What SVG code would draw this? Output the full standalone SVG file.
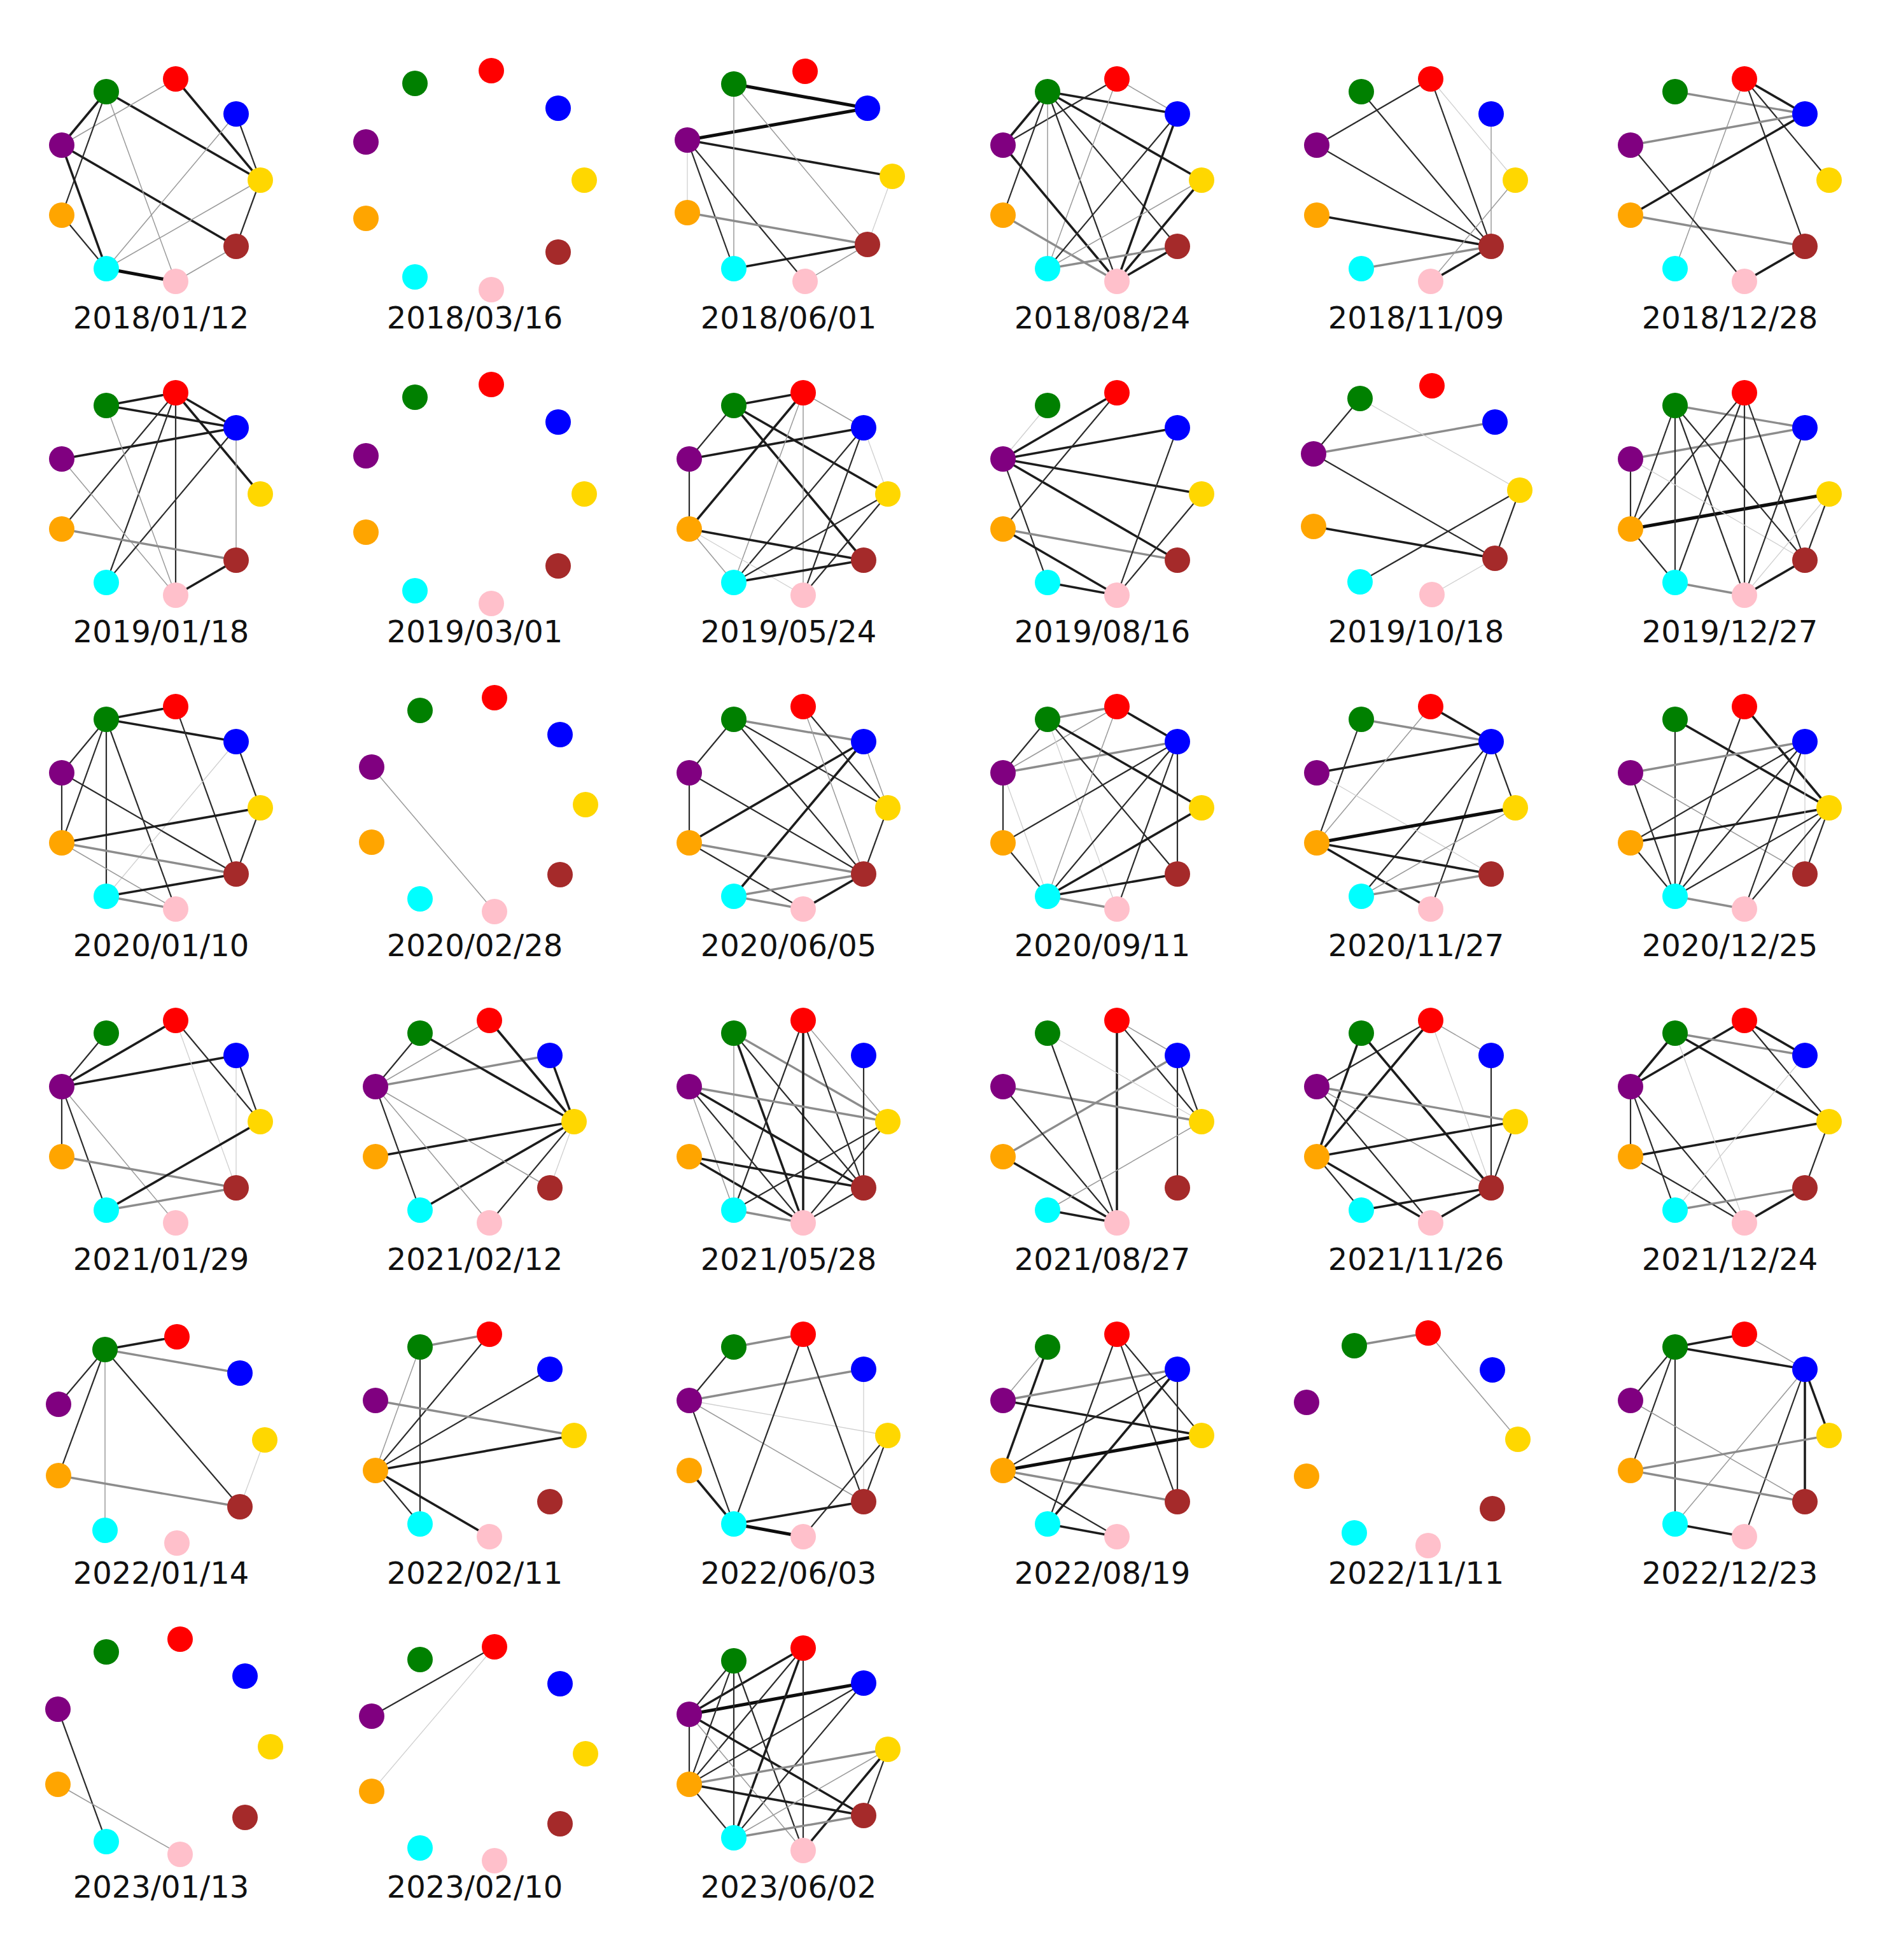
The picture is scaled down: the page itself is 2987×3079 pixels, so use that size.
<svg xmlns="http://www.w3.org/2000/svg" width="2987" height="3079" viewBox="0 0 2987 3079">
<style>
.G{fill:#008000}.R{fill:#ff0000}.B{fill:#0000ff}.Y{fill:#ffd700}.N{fill:#a52a2a}.K{fill:#ffc0cb}.C{fill:#00ffff}.O{fill:#ffa500}.P{fill:#800080}
path{fill:none}
.a{stroke:#cfcfcf;stroke-width:1.3}
.b{stroke:#9a9a9a;stroke-width:1.5}
.c{stroke:#2b2b2b;stroke-width:2.2}
.d{stroke:#8c8c8c;stroke-width:3.4}
.e{stroke:#1c1c1c;stroke-width:3.6}
.f{stroke:#0d0d0d;stroke-width:5.2}
text{font-family:"DejaVu Sans",sans-serif;font-size:48px;fill:#111;text-anchor:middle}
</style>
<rect width="2987" height="3079" fill="#ffffff"/>

<g id="graph-2018-01-12">
<g transform="translate(248,283)">
<g id="edges-2018-01-12">
<path class="e" d="M-81 -139L161 0"/><path class="e" d="M28 -159L161 0"/><path class="c" d="M123 -104L161 0"/><path class="e" d="M-151 -55L123 104"/><path class="e" d="M-81 -139L-151 -55"/><path class="b" d="M28 -159L-151 -55"/><path class="c" d="M-81 -139L-151 55"/><path class="e" d="M-151 -55L-81 139"/><path class="c" d="M-151 55L-81 139"/><path class="b" d="M-81 -139L28 159"/><path class="b" d="M-81 139L161 0"/><path class="b" d="M-81 139L123 -104"/><path class="f" d="M-81 139L28 159"/><path class="b" d="M28 159L123 104"/><path class="c" d="M123 104L161 0"/>
</g>
<g id="n00-G"><circle class="G" cx="-81" cy="-139" r="20"/></g><g id="n00-R"><circle class="R" cx="28" cy="-159" r="20"/></g><g id="n00-B"><circle class="B" cx="123" cy="-104" r="20"/></g><g id="n00-Y"><circle class="Y" cx="161" cy="0" r="20"/></g><g id="n00-N"><circle class="N" cx="123" cy="104" r="20"/></g><g id="n00-K"><circle class="K" cx="28" cy="159" r="20"/></g><g id="n00-C"><circle class="C" cx="-81" cy="139" r="20"/></g><g id="n00-O"><circle class="O" cx="-151" cy="55" r="20"/></g><g id="n00-P"><circle class="P" cx="-151" cy="-55" r="20"/></g>
</g>
<text x="253" y="516">2018/01/12</text>
</g>

<g id="graph-2018-03-16">
<g transform="translate(741,283)">
<g id="edges-2018-03-16"></g>
<g id="n01-G"><circle class="G" cx="-89" cy="-152" r="20"/></g><g id="n01-R"><circle class="R" cx="31" cy="-172" r="20"/></g><g id="n01-B"><circle class="B" cx="136" cy="-113" r="20"/></g><g id="n01-Y"><circle class="Y" cx="177" cy="0" r="20"/></g><g id="n01-N"><circle class="N" cx="136" cy="113" r="20"/></g><g id="n01-K"><circle class="K" cx="31" cy="172" r="20"/></g><g id="n01-C"><circle class="C" cx="-89" cy="152" r="20"/></g><g id="n01-O"><circle class="O" cx="-166" cy="60" r="20"/></g><g id="n01-P"><circle class="P" cx="-166" cy="-60" r="20"/></g>
</g>
<text x="746" y="516">2018/03/16</text>
</g>

<g id="graph-2018-06-01">
<g transform="translate(1236,277)">
<g id="edges-2018-06-01">
<path class="f" d="M-83 -145L127 -107"/><path class="f" d="M-156 -57L127 -107"/><path class="e" d="M-156 -57L166 0"/><path class="b" d="M-83 -145L-83 145"/><path class="b" d="M-83 -145L127 107"/><path class="c" d="M-156 -57L-83 145"/><path class="c" d="M-156 -57L29 165"/><path class="a" d="M-156 -57L-156 57"/><path class="d" d="M-156 57L127 107"/><path class="e" d="M-83 145L127 107"/><path class="b" d="M29 165L127 107"/><path class="a" d="M127 107L166 0"/>
</g>
<g id="n02-G"><circle class="G" cx="-83" cy="-145" r="20"/></g><g id="n02-R"><circle class="R" cx="29" cy="-165" r="20"/></g><g id="n02-B"><circle class="B" cx="127" cy="-107" r="20"/></g><g id="n02-Y"><circle class="Y" cx="166" cy="0" r="20"/></g><g id="n02-N"><circle class="N" cx="127" cy="107" r="20"/></g><g id="n02-K"><circle class="K" cx="29" cy="165" r="20"/></g><g id="n02-C"><circle class="C" cx="-83" cy="145" r="20"/></g><g id="n02-O"><circle class="O" cx="-156" cy="57" r="20"/></g><g id="n02-P"><circle class="P" cx="-156" cy="-57" r="20"/></g>
</g>
<text x="1239" y="516">2018/06/01</text>
</g>

<g id="graph-2018-08-24">
<g transform="translate(1727,283)">
<g id="edges-2018-08-24">
<path class="e" d="M-81 -139L123 -104"/><path class="b" d="M28 -159L123 -104"/><path class="e" d="M-81 -139L-151 -55"/><path class="c" d="M28 -159L-151 -55"/><path class="e" d="M-81 -139L161 0"/><path class="c" d="M-81 -139L123 104"/><path class="c" d="M-81 -139L28 159"/><path class="b" d="M-81 -139L-81 139"/><path class="c" d="M-81 -139L-151 55"/><path class="b" d="M28 -159L-81 139"/><path class="e" d="M-151 -55L28 159"/><path class="d" d="M-151 55L28 159"/><path class="e" d="M123 -104L28 159"/><path class="c" d="M123 -104L-81 139"/><path class="e" d="M161 0L28 159"/><path class="b" d="M161 0L-81 139"/><path class="d" d="M123 104L-81 139"/><path class="e" d="M123 104L28 159"/>
</g>
<g id="n03-G"><circle class="G" cx="-81" cy="-139" r="20"/></g><g id="n03-R"><circle class="R" cx="28" cy="-159" r="20"/></g><g id="n03-B"><circle class="B" cx="123" cy="-104" r="20"/></g><g id="n03-Y"><circle class="Y" cx="161" cy="0" r="20"/></g><g id="n03-N"><circle class="N" cx="123" cy="104" r="20"/></g><g id="n03-K"><circle class="K" cx="28" cy="159" r="20"/></g><g id="n03-C"><circle class="C" cx="-81" cy="139" r="20"/></g><g id="n03-O"><circle class="O" cx="-151" cy="55" r="20"/></g><g id="n03-P"><circle class="P" cx="-151" cy="-55" r="20"/></g>
</g>
<text x="1732" y="516">2018/08/24</text>
</g>

<g id="graph-2018-11-09">
<g transform="translate(2220,283)">
<g id="edges-2018-11-09">
<path class="c" d="M28 -159L-151 -55"/><path class="c" d="M-81 -139L123 104"/><path class="c" d="M28 -159L123 104"/><path class="a" d="M28 -159L161 0"/><path class="b" d="M123 -104L123 104"/><path class="c" d="M-151 -55L123 104"/><path class="e" d="M-151 55L123 104"/><path class="d" d="M-81 139L123 104"/><path class="e" d="M28 159L123 104"/><path class="b" d="M161 0L28 159"/>
</g>
<g id="n04-G"><circle class="G" cx="-81" cy="-139" r="20"/></g><g id="n04-R"><circle class="R" cx="28" cy="-159" r="20"/></g><g id="n04-B"><circle class="B" cx="123" cy="-104" r="20"/></g><g id="n04-Y"><circle class="Y" cx="161" cy="0" r="20"/></g><g id="n04-N"><circle class="N" cx="123" cy="104" r="20"/></g><g id="n04-K"><circle class="K" cx="28" cy="159" r="20"/></g><g id="n04-C"><circle class="C" cx="-81" cy="139" r="20"/></g><g id="n04-O"><circle class="O" cx="-151" cy="55" r="20"/></g><g id="n04-P"><circle class="P" cx="-151" cy="-55" r="20"/></g>
</g>
<text x="2225" y="516">2018/11/09</text>
</g>

<g id="graph-2018-12-28">
<g transform="translate(2713,283)">
<g id="edges-2018-12-28">
<path class="d" d="M-81 -139L123 -104"/><path class="e" d="M28 -159L123 -104"/><path class="c" d="M28 -159L161 0"/><path class="c" d="M28 -159L123 104"/><path class="b" d="M28 -159L-81 139"/><path class="d" d="M-151 -55L123 -104"/><path class="e" d="M-151 55L123 -104"/><path class="d" d="M-151 55L123 104"/><path class="c" d="M-151 -55L28 159"/><path class="e" d="M28 159L123 104"/>
</g>
<g id="n05-G"><circle class="G" cx="-81" cy="-139" r="20"/></g><g id="n05-R"><circle class="R" cx="28" cy="-159" r="20"/></g><g id="n05-B"><circle class="B" cx="123" cy="-104" r="20"/></g><g id="n05-Y"><circle class="Y" cx="161" cy="0" r="20"/></g><g id="n05-N"><circle class="N" cx="123" cy="104" r="20"/></g><g id="n05-K"><circle class="K" cx="28" cy="159" r="20"/></g><g id="n05-C"><circle class="C" cx="-81" cy="139" r="20"/></g><g id="n05-O"><circle class="O" cx="-151" cy="55" r="20"/></g><g id="n05-P"><circle class="P" cx="-151" cy="-55" r="20"/></g>
</g>
<text x="2718" y="516">2018/12/28</text>
</g>

<g id="graph-2019-01-18">
<g transform="translate(248,776)">
<g id="edges-2019-01-18">
<path class="e" d="M-81 -139L28 -159"/><path class="e" d="M-81 -139L123 -104"/><path class="e" d="M28 -159L123 -104"/><path class="e" d="M28 -159L161 0"/><path class="e" d="M-151 -55L123 -104"/><path class="c" d="M28 -159L28 159"/><path class="c" d="M28 -159L-81 139"/><path class="c" d="M28 -159L-151 55"/><path class="b" d="M-81 -139L28 159"/><path class="b" d="M-151 -55L28 159"/><path class="c" d="M123 -104L-81 139"/><path class="b" d="M123 -104L123 104"/><path class="d" d="M-151 55L123 104"/><path class="e" d="M28 159L123 104"/>
</g>
<g id="n10-G"><circle class="G" cx="-81" cy="-139" r="20"/></g><g id="n10-R"><circle class="R" cx="28" cy="-159" r="20"/></g><g id="n10-B"><circle class="B" cx="123" cy="-104" r="20"/></g><g id="n10-Y"><circle class="Y" cx="161" cy="0" r="20"/></g><g id="n10-N"><circle class="N" cx="123" cy="104" r="20"/></g><g id="n10-K"><circle class="K" cx="28" cy="159" r="20"/></g><g id="n10-C"><circle class="C" cx="-81" cy="139" r="20"/></g><g id="n10-O"><circle class="O" cx="-151" cy="55" r="20"/></g><g id="n10-P"><circle class="P" cx="-151" cy="-55" r="20"/></g>
</g>
<text x="253" y="1009">2019/01/18</text>
</g>

<g id="graph-2019-03-01">
<g transform="translate(741,776)">
<g id="edges-2019-03-01"></g>
<g id="n11-G"><circle class="G" cx="-89" cy="-152" r="20"/></g><g id="n11-R"><circle class="R" cx="31" cy="-172" r="20"/></g><g id="n11-B"><circle class="B" cx="136" cy="-113" r="20"/></g><g id="n11-Y"><circle class="Y" cx="177" cy="0" r="20"/></g><g id="n11-N"><circle class="N" cx="136" cy="113" r="20"/></g><g id="n11-K"><circle class="K" cx="31" cy="172" r="20"/></g><g id="n11-C"><circle class="C" cx="-89" cy="152" r="20"/></g><g id="n11-O"><circle class="O" cx="-166" cy="60" r="20"/></g><g id="n11-P"><circle class="P" cx="-166" cy="-60" r="20"/></g>
</g>
<text x="746" y="1009">2019/03/01</text>
</g>

<g id="graph-2019-05-24">
<g transform="translate(1234,776)">
<g id="edges-2019-05-24">
<path class="e" d="M-81 -139L28 -159"/><path class="b" d="M28 -159L123 -104"/><path class="c" d="M-81 -139L-151 -55"/><path class="e" d="M-151 -55L123 -104"/><path class="e" d="M-81 -139L161 0"/><path class="e" d="M-81 -139L123 104"/><path class="e" d="M28 -159L-151 55"/><path class="b" d="M28 -159L-81 139"/><path class="b" d="M28 -159L28 159"/><path class="c" d="M123 -104L-81 139"/><path class="c" d="M123 -104L28 159"/><path class="a" d="M123 -104L161 0"/><path class="c" d="M-151 -55L-151 55"/><path class="e" d="M-151 55L123 104"/><path class="b" d="M-151 55L-81 139"/><path class="a" d="M-151 55L28 159"/><path class="c" d="M161 0L-81 139"/><path class="c" d="M161 0L28 159"/><path class="e" d="M123 104L-81 139"/>
</g>
<g id="n12-G"><circle class="G" cx="-81" cy="-139" r="20"/></g><g id="n12-R"><circle class="R" cx="28" cy="-159" r="20"/></g><g id="n12-B"><circle class="B" cx="123" cy="-104" r="20"/></g><g id="n12-Y"><circle class="Y" cx="161" cy="0" r="20"/></g><g id="n12-N"><circle class="N" cx="123" cy="104" r="20"/></g><g id="n12-K"><circle class="K" cx="28" cy="159" r="20"/></g><g id="n12-C"><circle class="C" cx="-81" cy="139" r="20"/></g><g id="n12-O"><circle class="O" cx="-151" cy="55" r="20"/></g><g id="n12-P"><circle class="P" cx="-151" cy="-55" r="20"/></g>
</g>
<text x="1239" y="1009">2019/05/24</text>
</g>

<g id="graph-2019-08-16">
<g transform="translate(1727,776)">
<g id="edges-2019-08-16">
<path class="e" d="M-151 -55L28 -159"/><path class="e" d="M-151 -55L123 -104"/><path class="e" d="M-151 -55L161 0"/><path class="e" d="M-151 -55L123 104"/><path class="a" d="M-151 -55L-81 -139"/><path class="c" d="M-151 -55L-81 139"/><path class="c" d="M28 -159L-151 55"/><path class="d" d="M-151 55L123 104"/><path class="e" d="M-151 55L28 159"/><path class="c" d="M123 -104L28 159"/><path class="c" d="M161 0L28 159"/><path class="e" d="M-81 139L28 159"/>
</g>
<g id="n13-G"><circle class="G" cx="-81" cy="-139" r="20"/></g><g id="n13-R"><circle class="R" cx="28" cy="-159" r="20"/></g><g id="n13-B"><circle class="B" cx="123" cy="-104" r="20"/></g><g id="n13-Y"><circle class="Y" cx="161" cy="0" r="20"/></g><g id="n13-N"><circle class="N" cx="123" cy="104" r="20"/></g><g id="n13-K"><circle class="K" cx="28" cy="159" r="20"/></g><g id="n13-C"><circle class="C" cx="-81" cy="139" r="20"/></g><g id="n13-O"><circle class="O" cx="-151" cy="55" r="20"/></g><g id="n13-P"><circle class="P" cx="-151" cy="-55" r="20"/></g>
</g>
<text x="1732" y="1009">2019/08/16</text>
</g>

<g id="graph-2019-10-18">
<g transform="translate(2221,770)">
<g id="edges-2019-10-18">
<path class="c" d="M-84 -144L-157 -57"/><path class="d" d="M-157 -57L128 -107"/><path class="a" d="M-84 -144L167 0"/><path class="c" d="M-157 -57L128 107"/><path class="e" d="M-157 57L128 107"/><path class="c" d="M167 0L128 107"/><path class="c" d="M167 0L-84 144"/><path class="a" d="M29 164L128 107"/>
</g>
<g id="n14-G"><circle class="G" cx="-84" cy="-144" r="20"/></g><g id="n14-R"><circle class="R" cx="29" cy="-164" r="20"/></g><g id="n14-B"><circle class="B" cx="128" cy="-107" r="20"/></g><g id="n14-Y"><circle class="Y" cx="167" cy="0" r="20"/></g><g id="n14-N"><circle class="N" cx="128" cy="107" r="20"/></g><g id="n14-K"><circle class="K" cx="29" cy="164" r="20"/></g><g id="n14-C"><circle class="C" cx="-84" cy="144" r="20"/></g><g id="n14-O"><circle class="O" cx="-157" cy="57" r="20"/></g><g id="n14-P"><circle class="P" cx="-157" cy="-57" r="20"/></g>
</g>
<text x="2225" y="1009">2019/10/18</text>
</g>

<g id="graph-2019-12-27">
<g transform="translate(2713,776)">
<g id="edges-2019-12-27">
<path class="d" d="M-81 -139L123 -104"/><path class="d" d="M-151 -55L123 -104"/><path class="f" d="M-151 55L161 0"/><path class="c" d="M-81 -139L-151 55"/><path class="c" d="M-81 -139L-81 139"/><path class="c" d="M-81 -139L28 159"/><path class="c" d="M-81 -139L123 104"/><path class="c" d="M28 -159L-151 55"/><path class="c" d="M28 -159L-81 139"/><path class="c" d="M28 -159L28 159"/><path class="c" d="M28 -159L123 104"/><path class="c" d="M-151 -55L-151 55"/><path class="a" d="M-151 -55L123 104"/><path class="c" d="M123 -104L28 159"/><path class="c" d="M161 0L123 104"/><path class="a" d="M161 0L28 159"/><path class="c" d="M-151 55L-81 139"/><path class="d" d="M-81 139L28 159"/><path class="e" d="M28 159L123 104"/>
</g>
<g id="n15-G"><circle class="G" cx="-81" cy="-139" r="20"/></g><g id="n15-R"><circle class="R" cx="28" cy="-159" r="20"/></g><g id="n15-B"><circle class="B" cx="123" cy="-104" r="20"/></g><g id="n15-Y"><circle class="Y" cx="161" cy="0" r="20"/></g><g id="n15-N"><circle class="N" cx="123" cy="104" r="20"/></g><g id="n15-K"><circle class="K" cx="28" cy="159" r="20"/></g><g id="n15-C"><circle class="C" cx="-81" cy="139" r="20"/></g><g id="n15-O"><circle class="O" cx="-151" cy="55" r="20"/></g><g id="n15-P"><circle class="P" cx="-151" cy="-55" r="20"/></g>
</g>
<text x="2718" y="1009">2019/12/27</text>
</g>

<g id="graph-2020-01-10">
<g transform="translate(248,1269)">
<g id="edges-2020-01-10">
<path class="e" d="M-81 -139L28 -159"/><path class="e" d="M-81 -139L123 -104"/><path class="c" d="M-81 -139L-151 -55"/><path class="c" d="M-81 -139L-151 55"/><path class="c" d="M-81 -139L-81 139"/><path class="c" d="M-81 -139L28 159"/><path class="c" d="M28 -159L123 104"/><path class="c" d="M123 -104L161 0"/><path class="c" d="M161 0L123 104"/><path class="a" d="M123 -104L-81 139"/><path class="c" d="M-151 -55L123 104"/><path class="c" d="M-151 -55L-151 55"/><path class="e" d="M-151 55L161 0"/><path class="d" d="M-151 55L123 104"/><path class="b" d="M-151 55L28 159"/><path class="e" d="M-81 139L123 104"/><path class="d" d="M-81 139L28 159"/>
</g>
<g id="n20-G"><circle class="G" cx="-81" cy="-139" r="20"/></g><g id="n20-R"><circle class="R" cx="28" cy="-159" r="20"/></g><g id="n20-B"><circle class="B" cx="123" cy="-104" r="20"/></g><g id="n20-Y"><circle class="Y" cx="161" cy="0" r="20"/></g><g id="n20-N"><circle class="N" cx="123" cy="104" r="20"/></g><g id="n20-K"><circle class="K" cx="28" cy="159" r="20"/></g><g id="n20-C"><circle class="C" cx="-81" cy="139" r="20"/></g><g id="n20-O"><circle class="O" cx="-151" cy="55" r="20"/></g><g id="n20-P"><circle class="P" cx="-151" cy="-55" r="20"/></g>
</g>
<text x="253" y="1502">2020/01/10</text>
</g>

<g id="graph-2020-02-28">
<g transform="translate(747,1264)">
<g id="edges-2020-02-28">
<path class="b" d="M-163 -59L30 168"/>
</g>
<g id="n21-G"><circle class="G" cx="-87" cy="-148" r="20"/></g><g id="n21-R"><circle class="R" cx="30" cy="-168" r="20"/></g><g id="n21-B"><circle class="B" cx="133" cy="-110" r="20"/></g><g id="n21-Y"><circle class="Y" cx="173" cy="0" r="20"/></g><g id="n21-N"><circle class="N" cx="133" cy="110" r="20"/></g><g id="n21-K"><circle class="K" cx="30" cy="168" r="20"/></g><g id="n21-C"><circle class="C" cx="-87" cy="148" r="20"/></g><g id="n21-O"><circle class="O" cx="-163" cy="59" r="20"/></g><g id="n21-P"><circle class="P" cx="-163" cy="-59" r="20"/></g>
</g>
<text x="746" y="1502">2020/02/28</text>
</g>

<g id="graph-2020-06-05">
<g transform="translate(1234,1269)">
<g id="edges-2020-06-05">
<path class="d" d="M-81 -139L123 -104"/><path class="c" d="M-81 -139L-151 -55"/><path class="c" d="M-81 -139L123 104"/><path class="c" d="M-81 -139L161 0"/><path class="c" d="M28 -159L161 0"/><path class="b" d="M123 -104L161 0"/><path class="e" d="M123 -104L-151 55"/><path class="e" d="M123 -104L-81 139"/><path class="c" d="M-151 -55L-151 55"/><path class="c" d="M-151 -55L123 104"/><path class="d" d="M-151 55L123 104"/><path class="c" d="M-151 55L28 159"/><path class="d" d="M-81 139L123 104"/><path class="d" d="M-81 139L28 159"/><path class="e" d="M28 159L123 104"/><path class="c" d="M161 0L123 104"/><path class="b" d="M28 -159L123 104"/>
</g>
<g id="n22-G"><circle class="G" cx="-81" cy="-139" r="20"/></g><g id="n22-R"><circle class="R" cx="28" cy="-159" r="20"/></g><g id="n22-B"><circle class="B" cx="123" cy="-104" r="20"/></g><g id="n22-Y"><circle class="Y" cx="161" cy="0" r="20"/></g><g id="n22-N"><circle class="N" cx="123" cy="104" r="20"/></g><g id="n22-K"><circle class="K" cx="28" cy="159" r="20"/></g><g id="n22-C"><circle class="C" cx="-81" cy="139" r="20"/></g><g id="n22-O"><circle class="O" cx="-151" cy="55" r="20"/></g><g id="n22-P"><circle class="P" cx="-151" cy="-55" r="20"/></g>
</g>
<text x="1239" y="1502">2020/06/05</text>
</g>

<g id="graph-2020-09-11">
<g transform="translate(1727,1269)">
<g id="edges-2020-09-11">
<path class="d" d="M-81 -139L28 -159"/><path class="e" d="M28 -159L123 -104"/><path class="c" d="M-81 -139L-151 -55"/><path class="b" d="M28 -159L-151 -55"/><path class="d" d="M-151 -55L123 -104"/><path class="e" d="M-81 -139L161 0"/><path class="c" d="M-81 -139L123 104"/><path class="a" d="M-81 -139L28 159"/><path class="b" d="M28 -159L-81 139"/><path class="c" d="M-151 -55L-151 55"/><path class="a" d="M-151 -55L-81 139"/><path class="c" d="M123 -104L-151 55"/><path class="c" d="M123 -104L123 104"/><path class="c" d="M123 -104L-81 139"/><path class="c" d="M123 -104L28 159"/><path class="c" d="M-151 55L-81 139"/><path class="e" d="M-81 139L123 104"/><path class="d" d="M-81 139L28 159"/><path class="e" d="M161 0L-81 139"/>
</g>
<g id="n23-G"><circle class="G" cx="-81" cy="-139" r="20"/></g><g id="n23-R"><circle class="R" cx="28" cy="-159" r="20"/></g><g id="n23-B"><circle class="B" cx="123" cy="-104" r="20"/></g><g id="n23-Y"><circle class="Y" cx="161" cy="0" r="20"/></g><g id="n23-N"><circle class="N" cx="123" cy="104" r="20"/></g><g id="n23-K"><circle class="K" cx="28" cy="159" r="20"/></g><g id="n23-C"><circle class="C" cx="-81" cy="139" r="20"/></g><g id="n23-O"><circle class="O" cx="-151" cy="55" r="20"/></g><g id="n23-P"><circle class="P" cx="-151" cy="-55" r="20"/></g>
</g>
<text x="1732" y="1502">2020/09/11</text>
</g>

<g id="graph-2020-11-27">
<g transform="translate(2220,1269)">
<g id="edges-2020-11-27">
<path class="d" d="M-81 -139L123 -104"/><path class="e" d="M28 -159L123 -104"/><path class="e" d="M-151 -55L123 -104"/><path class="c" d="M-81 -139L-151 55"/><path class="b" d="M28 -159L-151 55"/><path class="c" d="M123 -104L161 0"/><path class="c" d="M123 -104L-81 139"/><path class="c" d="M123 -104L28 159"/><path class="a" d="M-151 -55L123 104"/><path class="f" d="M-151 55L161 0"/><path class="e" d="M-151 55L123 104"/><path class="e" d="M-151 55L28 159"/><path class="b" d="M161 0L-81 139"/><path class="d" d="M-81 139L123 104"/>
</g>
<g id="n24-G"><circle class="G" cx="-81" cy="-139" r="20"/></g><g id="n24-R"><circle class="R" cx="28" cy="-159" r="20"/></g><g id="n24-B"><circle class="B" cx="123" cy="-104" r="20"/></g><g id="n24-Y"><circle class="Y" cx="161" cy="0" r="20"/></g><g id="n24-N"><circle class="N" cx="123" cy="104" r="20"/></g><g id="n24-K"><circle class="K" cx="28" cy="159" r="20"/></g><g id="n24-C"><circle class="C" cx="-81" cy="139" r="20"/></g><g id="n24-O"><circle class="O" cx="-151" cy="55" r="20"/></g><g id="n24-P"><circle class="P" cx="-151" cy="-55" r="20"/></g>
</g>
<text x="2225" y="1502">2020/11/27</text>
</g>

<g id="graph-2020-12-25">
<g transform="translate(2713,1269)">
<g id="edges-2020-12-25">
<path class="e" d="M-81 -139L161 0"/><path class="c" d="M-81 -139L-81 139"/><path class="e" d="M28 -159L161 0"/><path class="c" d="M28 -159L-81 139"/><path class="d" d="M-151 -55L123 -104"/><path class="c" d="M-151 -55L-81 139"/><path class="b" d="M-151 -55L123 104"/><path class="c" d="M-151 55L123 -104"/><path class="e" d="M-151 55L161 0"/><path class="c" d="M-151 55L-81 139"/><path class="c" d="M123 -104L-81 139"/><path class="c" d="M123 -104L28 159"/><path class="a" d="M123 -104L123 104"/><path class="c" d="M161 0L-81 139"/><path class="c" d="M161 0L28 159"/><path class="c" d="M161 0L123 104"/><path class="d" d="M-81 139L28 159"/>
</g>
<g id="n25-G"><circle class="G" cx="-81" cy="-139" r="20"/></g><g id="n25-R"><circle class="R" cx="28" cy="-159" r="20"/></g><g id="n25-B"><circle class="B" cx="123" cy="-104" r="20"/></g><g id="n25-Y"><circle class="Y" cx="161" cy="0" r="20"/></g><g id="n25-N"><circle class="N" cx="123" cy="104" r="20"/></g><g id="n25-K"><circle class="K" cx="28" cy="159" r="20"/></g><g id="n25-C"><circle class="C" cx="-81" cy="139" r="20"/></g><g id="n25-O"><circle class="O" cx="-151" cy="55" r="20"/></g><g id="n25-P"><circle class="P" cx="-151" cy="-55" r="20"/></g>
</g>
<text x="2718" y="1502">2020/12/25</text>
</g>

<g id="graph-2021-01-29">
<g transform="translate(248,1762)">
<g id="edges-2021-01-29">
<path class="c" d="M-81 -139L-151 -55"/><path class="e" d="M28 -159L-151 -55"/><path class="e" d="M-151 -55L123 -104"/><path class="c" d="M28 -159L161 0"/><path class="c" d="M123 -104L161 0"/><path class="a" d="M28 -159L123 104"/><path class="c" d="M-151 -55L-151 55"/><path class="c" d="M-151 -55L-81 139"/><path class="b" d="M-151 -55L28 159"/><path class="a" d="M123 -104L123 104"/><path class="d" d="M-151 55L123 104"/><path class="e" d="M161 0L-81 139"/><path class="d" d="M-81 139L123 104"/>
</g>
<g id="n30-G"><circle class="G" cx="-81" cy="-139" r="20"/></g><g id="n30-R"><circle class="R" cx="28" cy="-159" r="20"/></g><g id="n30-B"><circle class="B" cx="123" cy="-104" r="20"/></g><g id="n30-Y"><circle class="Y" cx="161" cy="0" r="20"/></g><g id="n30-N"><circle class="N" cx="123" cy="104" r="20"/></g><g id="n30-K"><circle class="K" cx="28" cy="159" r="20"/></g><g id="n30-C"><circle class="C" cx="-81" cy="139" r="20"/></g><g id="n30-O"><circle class="O" cx="-151" cy="55" r="20"/></g><g id="n30-P"><circle class="P" cx="-151" cy="-55" r="20"/></g>
</g>
<text x="253" y="1995">2021/01/29</text>
</g>

<g id="graph-2021-02-12">
<g transform="translate(741,1762)">
<g id="edges-2021-02-12">
<path class="c" d="M-81 -139L-151 -55"/><path class="b" d="M28 -159L-151 -55"/><path class="d" d="M-151 -55L123 -104"/><path class="e" d="M-81 -139L161 0"/><path class="e" d="M28 -159L161 0"/><path class="e" d="M123 -104L161 0"/><path class="e" d="M-151 55L161 0"/><path class="e" d="M-81 139L161 0"/><path class="c" d="M28 159L161 0"/><path class="a" d="M123 104L161 0"/><path class="b" d="M-151 -55L123 104"/><path class="c" d="M-151 -55L-81 139"/><path class="b" d="M-151 -55L28 159"/>
</g>
<g id="n31-G"><circle class="G" cx="-81" cy="-139" r="20"/></g><g id="n31-R"><circle class="R" cx="28" cy="-159" r="20"/></g><g id="n31-B"><circle class="B" cx="123" cy="-104" r="20"/></g><g id="n31-Y"><circle class="Y" cx="161" cy="0" r="20"/></g><g id="n31-N"><circle class="N" cx="123" cy="104" r="20"/></g><g id="n31-K"><circle class="K" cx="28" cy="159" r="20"/></g><g id="n31-C"><circle class="C" cx="-81" cy="139" r="20"/></g><g id="n31-O"><circle class="O" cx="-151" cy="55" r="20"/></g><g id="n31-P"><circle class="P" cx="-151" cy="-55" r="20"/></g>
</g>
<text x="746" y="1995">2021/02/12</text>
</g>

<g id="graph-2021-05-28">
<g transform="translate(1234,1762)">
<g id="edges-2021-05-28">
<path class="d" d="M-81 -139L161 0"/><path class="e" d="M-81 -139L28 159"/><path class="c" d="M-81 -139L123 104"/><path class="e" d="M28 -159L28 159"/><path class="c" d="M28 -159L123 104"/><path class="c" d="M28 -159L-81 139"/><path class="b" d="M28 -159L161 0"/><path class="c" d="M123 -104L123 104"/><path class="d" d="M-151 -55L161 0"/><path class="e" d="M-151 -55L123 104"/><path class="c" d="M-151 -55L28 159"/><path class="b" d="M-151 -55L-81 139"/><path class="e" d="M-151 55L123 104"/><path class="e" d="M-151 55L28 159"/><path class="c" d="M161 0L-81 139"/><path class="c" d="M161 0L28 159"/><path class="d" d="M-81 139L28 159"/><path class="c" d="M123 104L28 159"/><path class="b" d="M-81 -139L-81 139"/>
</g>
<g id="n32-G"><circle class="G" cx="-81" cy="-139" r="20"/></g><g id="n32-R"><circle class="R" cx="28" cy="-159" r="20"/></g><g id="n32-B"><circle class="B" cx="123" cy="-104" r="20"/></g><g id="n32-Y"><circle class="Y" cx="161" cy="0" r="20"/></g><g id="n32-N"><circle class="N" cx="123" cy="104" r="20"/></g><g id="n32-K"><circle class="K" cx="28" cy="159" r="20"/></g><g id="n32-C"><circle class="C" cx="-81" cy="139" r="20"/></g><g id="n32-O"><circle class="O" cx="-151" cy="55" r="20"/></g><g id="n32-P"><circle class="P" cx="-151" cy="-55" r="20"/></g>
</g>
<text x="1239" y="1995">2021/05/28</text>
</g>

<g id="graph-2021-08-27">
<g transform="translate(1727,1762)">
<g id="edges-2021-08-27">
<path class="e" d="M28 -159L28 159"/><path class="b" d="M28 -159L123 -104"/><path class="c" d="M28 -159L161 0"/><path class="c" d="M123 -104L161 0"/><path class="c" d="M123 -104L123 104"/><path class="d" d="M123 -104L-151 55"/><path class="d" d="M-151 -55L161 0"/><path class="c" d="M-151 -55L28 159"/><path class="c" d="M-81 -139L28 159"/><path class="a" d="M-81 -139L161 0"/><path class="e" d="M-151 55L28 159"/><path class="b" d="M161 0L-81 139"/><path class="e" d="M-81 139L28 159"/>
</g>
<g id="n33-G"><circle class="G" cx="-81" cy="-139" r="20"/></g><g id="n33-R"><circle class="R" cx="28" cy="-159" r="20"/></g><g id="n33-B"><circle class="B" cx="123" cy="-104" r="20"/></g><g id="n33-Y"><circle class="Y" cx="161" cy="0" r="20"/></g><g id="n33-N"><circle class="N" cx="123" cy="104" r="20"/></g><g id="n33-K"><circle class="K" cx="28" cy="159" r="20"/></g><g id="n33-C"><circle class="C" cx="-81" cy="139" r="20"/></g><g id="n33-O"><circle class="O" cx="-151" cy="55" r="20"/></g><g id="n33-P"><circle class="P" cx="-151" cy="-55" r="20"/></g>
</g>
<text x="1732" y="1995">2021/08/27</text>
</g>

<g id="graph-2021-11-26">
<g transform="translate(2220,1762)">
<g id="edges-2021-11-26">
<path class="c" d="M28 -159L-151 -55"/><path class="e" d="M-81 -139L-151 55"/><path class="e" d="M28 -159L-151 55"/><path class="e" d="M-81 -139L123 104"/><path class="b" d="M28 -159L123 -104"/><path class="a" d="M28 -159L123 104"/><path class="c" d="M123 -104L123 104"/><path class="d" d="M-151 -55L161 0"/><path class="b" d="M-151 -55L123 104"/><path class="c" d="M-151 -55L28 159"/><path class="e" d="M-151 55L161 0"/><path class="c" d="M-151 55L-81 139"/><path class="e" d="M-151 55L28 159"/><path class="c" d="M161 0L123 104"/><path class="e" d="M-81 139L123 104"/><path class="e" d="M28 159L123 104"/>
</g>
<g id="n34-G"><circle class="G" cx="-81" cy="-139" r="20"/></g><g id="n34-R"><circle class="R" cx="28" cy="-159" r="20"/></g><g id="n34-B"><circle class="B" cx="123" cy="-104" r="20"/></g><g id="n34-Y"><circle class="Y" cx="161" cy="0" r="20"/></g><g id="n34-N"><circle class="N" cx="123" cy="104" r="20"/></g><g id="n34-K"><circle class="K" cx="28" cy="159" r="20"/></g><g id="n34-C"><circle class="C" cx="-81" cy="139" r="20"/></g><g id="n34-O"><circle class="O" cx="-151" cy="55" r="20"/></g><g id="n34-P"><circle class="P" cx="-151" cy="-55" r="20"/></g>
</g>
<text x="2225" y="1995">2021/11/26</text>
</g>

<g id="graph-2021-12-24">
<g transform="translate(2713,1762)">
<g id="edges-2021-12-24">
<path class="e" d="M-81 -139L-151 -55"/><path class="e" d="M28 -159L-151 -55"/><path class="d" d="M-81 -139L123 -104"/><path class="e" d="M28 -159L123 -104"/><path class="e" d="M-81 -139L161 0"/><path class="c" d="M28 -159L161 0"/><path class="c" d="M-151 -55L-151 55"/><path class="c" d="M-151 -55L-81 139"/><path class="c" d="M-151 -55L28 159"/><path class="e" d="M-151 55L161 0"/><path class="c" d="M-151 55L28 159"/><path class="a" d="M-81 -139L28 159"/><path class="a" d="M123 -104L-81 139"/><path class="c" d="M161 0L123 104"/><path class="d" d="M123 104L-81 139"/><path class="e" d="M123 104L28 159"/>
</g>
<g id="n35-G"><circle class="G" cx="-81" cy="-139" r="20"/></g><g id="n35-R"><circle class="R" cx="28" cy="-159" r="20"/></g><g id="n35-B"><circle class="B" cx="123" cy="-104" r="20"/></g><g id="n35-Y"><circle class="Y" cx="161" cy="0" r="20"/></g><g id="n35-N"><circle class="N" cx="123" cy="104" r="20"/></g><g id="n35-K"><circle class="K" cx="28" cy="159" r="20"/></g><g id="n35-C"><circle class="C" cx="-81" cy="139" r="20"/></g><g id="n35-O"><circle class="O" cx="-151" cy="55" r="20"/></g><g id="n35-P"><circle class="P" cx="-151" cy="-55" r="20"/></g>
</g>
<text x="2718" y="1995">2021/12/24</text>
</g>

<g id="graph-2022-01-14">
<g transform="translate(249,2262)">
<g id="edges-2022-01-14">
<path class="e" d="M-84 -142L29 -162"/><path class="d" d="M-84 -142L128 -105"/><path class="c" d="M-84 -142L-157 -56"/><path class="c" d="M-84 -142L-157 56"/><path class="b" d="M-84 -142L-84 142"/><path class="c" d="M-84 -142L128 105"/><path class="d" d="M-157 56L128 105"/><path class="a" d="M167 0L128 105"/>
</g>
<g id="n40-G"><circle class="G" cx="-84" cy="-142" r="20"/></g><g id="n40-R"><circle class="R" cx="29" cy="-162" r="20"/></g><g id="n40-B"><circle class="B" cx="128" cy="-105" r="20"/></g><g id="n40-Y"><circle class="Y" cx="167" cy="0" r="20"/></g><g id="n40-N"><circle class="N" cx="128" cy="105" r="20"/></g><g id="n40-K"><circle class="K" cx="29" cy="162" r="20"/></g><g id="n40-C"><circle class="C" cx="-84" cy="142" r="20"/></g><g id="n40-O"><circle class="O" cx="-157" cy="56" r="20"/></g><g id="n40-P"><circle class="P" cx="-157" cy="-56" r="20"/></g>
</g>
<text x="253" y="2488">2022/01/14</text>
</g>

<g id="graph-2022-02-11">
<g transform="translate(741,2255)">
<g id="edges-2022-02-11">
<path class="d" d="M-81 -139L28 -159"/><path class="c" d="M-81 -139L-81 139"/><path class="b" d="M-81 -139L-151 55"/><path class="c" d="M28 -159L-151 55"/><path class="c" d="M123 -104L-151 55"/><path class="d" d="M-151 -55L161 0"/><path class="e" d="M-151 55L161 0"/><path class="c" d="M-151 55L-81 139"/><path class="e" d="M-151 55L28 159"/>
</g>
<g id="n41-G"><circle class="G" cx="-81" cy="-139" r="20"/></g><g id="n41-R"><circle class="R" cx="28" cy="-159" r="20"/></g><g id="n41-B"><circle class="B" cx="123" cy="-104" r="20"/></g><g id="n41-Y"><circle class="Y" cx="161" cy="0" r="20"/></g><g id="n41-N"><circle class="N" cx="123" cy="104" r="20"/></g><g id="n41-K"><circle class="K" cx="28" cy="159" r="20"/></g><g id="n41-C"><circle class="C" cx="-81" cy="139" r="20"/></g><g id="n41-O"><circle class="O" cx="-151" cy="55" r="20"/></g><g id="n41-P"><circle class="P" cx="-151" cy="-55" r="20"/></g>
</g>
<text x="746" y="2488">2022/02/11</text>
</g>

<g id="graph-2022-06-03">
<g transform="translate(1234,2255)">
<g id="edges-2022-06-03">
<path class="d" d="M-81 -139L28 -159"/><path class="c" d="M-81 -139L-151 -55"/><path class="d" d="M-151 -55L123 -104"/><path class="a" d="M-151 -55L161 0"/><path class="c" d="M-151 -55L-81 139"/><path class="b" d="M-151 -55L123 104"/><path class="c" d="M28 -159L-81 139"/><path class="c" d="M28 -159L123 104"/><path class="a" d="M123 -104L123 104"/><path class="e" d="M-151 55L-81 139"/><path class="e" d="M-81 139L123 104"/><path class="f" d="M-81 139L28 159"/><path class="c" d="M161 0L28 159"/><path class="c" d="M161 0L123 104"/>
</g>
<g id="n42-G"><circle class="G" cx="-81" cy="-139" r="20"/></g><g id="n42-R"><circle class="R" cx="28" cy="-159" r="20"/></g><g id="n42-B"><circle class="B" cx="123" cy="-104" r="20"/></g><g id="n42-Y"><circle class="Y" cx="161" cy="0" r="20"/></g><g id="n42-N"><circle class="N" cx="123" cy="104" r="20"/></g><g id="n42-K"><circle class="K" cx="28" cy="159" r="20"/></g><g id="n42-C"><circle class="C" cx="-81" cy="139" r="20"/></g><g id="n42-O"><circle class="O" cx="-151" cy="55" r="20"/></g><g id="n42-P"><circle class="P" cx="-151" cy="-55" r="20"/></g>
</g>
<text x="1239" y="2488">2022/06/03</text>
</g>

<g id="graph-2022-08-19">
<g transform="translate(1727,2255)">
<g id="edges-2022-08-19">
<path class="b" d="M-81 -139L-151 -55"/><path class="e" d="M-81 -139L-151 55"/><path class="d" d="M-151 -55L123 -104"/><path class="e" d="M-151 -55L161 0"/><path class="c" d="M28 -159L-81 139"/><path class="c" d="M28 -159L161 0"/><path class="c" d="M28 -159L123 104"/><path class="c" d="M-151 55L123 -104"/><path class="f" d="M-151 55L161 0"/><path class="d" d="M-151 55L123 104"/><path class="c" d="M-151 55L28 159"/><path class="e" d="M123 -104L-81 139"/><path class="c" d="M123 -104L123 104"/><path class="e" d="M-81 139L28 159"/>
</g>
<g id="n43-G"><circle class="G" cx="-81" cy="-139" r="20"/></g><g id="n43-R"><circle class="R" cx="28" cy="-159" r="20"/></g><g id="n43-B"><circle class="B" cx="123" cy="-104" r="20"/></g><g id="n43-Y"><circle class="Y" cx="161" cy="0" r="20"/></g><g id="n43-N"><circle class="N" cx="123" cy="104" r="20"/></g><g id="n43-K"><circle class="K" cx="28" cy="159" r="20"/></g><g id="n43-C"><circle class="C" cx="-81" cy="139" r="20"/></g><g id="n43-O"><circle class="O" cx="-151" cy="55" r="20"/></g><g id="n43-P"><circle class="P" cx="-151" cy="-55" r="20"/></g>
</g>
<text x="1732" y="2488">2022/08/19</text>
</g>

<g id="graph-2022-11-11">
<g transform="translate(2214,2261)">
<g id="edges-2022-11-11">
<path class="d" d="M-86 -147L30 -167"/><path class="b" d="M30 -167L171 0"/>
</g>
<g id="n44-G"><circle class="G" cx="-86" cy="-147" r="20"/></g><g id="n44-R"><circle class="R" cx="30" cy="-167" r="20"/></g><g id="n44-B"><circle class="B" cx="131" cy="-109" r="20"/></g><g id="n44-Y"><circle class="Y" cx="171" cy="0" r="20"/></g><g id="n44-N"><circle class="N" cx="131" cy="109" r="20"/></g><g id="n44-K"><circle class="K" cx="30" cy="167" r="20"/></g><g id="n44-C"><circle class="C" cx="-86" cy="147" r="20"/></g><g id="n44-O"><circle class="O" cx="-161" cy="58" r="20"/></g><g id="n44-P"><circle class="P" cx="-161" cy="-58" r="20"/></g>
</g>
<text x="2225" y="2488">2022/11/11</text>
</g>

<g id="graph-2022-12-23">
<g transform="translate(2713,2255)">
<g id="edges-2022-12-23">
<path class="e" d="M-81 -139L28 -159"/><path class="e" d="M-81 -139L123 -104"/><path class="b" d="M28 -159L123 -104"/><path class="c" d="M-81 -139L-151 -55"/><path class="c" d="M-81 -139L-151 55"/><path class="c" d="M-81 -139L-81 139"/><path class="e" d="M123 -104L161 0"/><path class="e" d="M123 -104L123 104"/><path class="c" d="M123 -104L28 159"/><path class="b" d="M123 -104L-81 139"/><path class="b" d="M-151 -55L123 104"/><path class="d" d="M-151 55L161 0"/><path class="d" d="M-151 55L123 104"/><path class="e" d="M-81 139L28 159"/>
</g>
<g id="n45-G"><circle class="G" cx="-81" cy="-139" r="20"/></g><g id="n45-R"><circle class="R" cx="28" cy="-159" r="20"/></g><g id="n45-B"><circle class="B" cx="123" cy="-104" r="20"/></g><g id="n45-Y"><circle class="Y" cx="161" cy="0" r="20"/></g><g id="n45-N"><circle class="N" cx="123" cy="104" r="20"/></g><g id="n45-K"><circle class="K" cx="28" cy="159" r="20"/></g><g id="n45-C"><circle class="C" cx="-81" cy="139" r="20"/></g><g id="n45-O"><circle class="O" cx="-151" cy="55" r="20"/></g><g id="n45-P"><circle class="P" cx="-151" cy="-55" r="20"/></g>
</g>
<text x="2718" y="2488">2022/12/23</text>
</g>

<g id="graph-2023-01-13">
<g transform="translate(253,2744)">
<g id="edges-2023-01-13">
<path class="c" d="M-162 -59L-86 149"/><path class="b" d="M-162 59L30 169"/>
</g>
<g id="n50-G"><circle class="G" cx="-86" cy="-149" r="20"/></g><g id="n50-R"><circle class="R" cx="30" cy="-169" r="20"/></g><g id="n50-B"><circle class="B" cx="132" cy="-111" r="20"/></g><g id="n50-Y"><circle class="Y" cx="172" cy="0" r="20"/></g><g id="n50-N"><circle class="N" cx="132" cy="111" r="20"/></g><g id="n50-K"><circle class="K" cx="30" cy="169" r="20"/></g><g id="n50-C"><circle class="C" cx="-86" cy="149" r="20"/></g><g id="n50-O"><circle class="O" cx="-162" cy="59" r="20"/></g><g id="n50-P"><circle class="P" cx="-162" cy="-59" r="20"/></g>
</g>
<text x="253" y="2981">2023/01/13</text>
</g>

<g id="graph-2023-02-10">
<g transform="translate(747,2755)">
<g id="edges-2023-02-10">
<path class="c" d="M-163 -59L30 -168"/><path class="a" d="M-163 59L30 -168"/>
</g>
<g id="n51-G"><circle class="G" cx="-87" cy="-148" r="20"/></g><g id="n51-R"><circle class="R" cx="30" cy="-168" r="20"/></g><g id="n51-B"><circle class="B" cx="133" cy="-110" r="20"/></g><g id="n51-Y"><circle class="Y" cx="173" cy="0" r="20"/></g><g id="n51-N"><circle class="N" cx="133" cy="110" r="20"/></g><g id="n51-K"><circle class="K" cx="30" cy="168" r="20"/></g><g id="n51-C"><circle class="C" cx="-87" cy="148" r="20"/></g><g id="n51-O"><circle class="O" cx="-163" cy="59" r="20"/></g><g id="n51-P"><circle class="P" cx="-163" cy="-59" r="20"/></g>
</g>
<text x="746" y="2981">2023/02/10</text>
</g>

<g id="graph-2023-06-02">
<g transform="translate(1234,2748)">
<g id="edges-2023-06-02">
<path class="c" d="M-81 -139L-151 -55"/><path class="e" d="M28 -159L-151 -55"/><path class="f" d="M-151 -55L123 -104"/><path class="c" d="M-81 -139L-81 139"/><path class="c" d="M-81 -139L-151 55"/><path class="c" d="M-81 -139L28 159"/><path class="e" d="M28 -159L-81 139"/><path class="c" d="M28 -159L28 159"/><path class="c" d="M28 -159L-151 55"/><path class="c" d="M123 -104L-151 55"/><path class="c" d="M123 -104L-81 139"/><path class="c" d="M-151 -55L-151 55"/><path class="e" d="M-151 -55L123 104"/><path class="b" d="M-151 -55L28 159"/><path class="d" d="M-151 55L161 0"/><path class="e" d="M-151 55L123 104"/><path class="c" d="M-151 55L-81 139"/><path class="b" d="M161 0L-81 139"/><path class="e" d="M161 0L28 159"/><path class="c" d="M161 0L123 104"/><path class="d" d="M-81 139L123 104"/>
</g>
<g id="n52-G"><circle class="G" cx="-81" cy="-139" r="20"/></g><g id="n52-R"><circle class="R" cx="28" cy="-159" r="20"/></g><g id="n52-B"><circle class="B" cx="123" cy="-104" r="20"/></g><g id="n52-Y"><circle class="Y" cx="161" cy="0" r="20"/></g><g id="n52-N"><circle class="N" cx="123" cy="104" r="20"/></g><g id="n52-K"><circle class="K" cx="28" cy="159" r="20"/></g><g id="n52-C"><circle class="C" cx="-81" cy="139" r="20"/></g><g id="n52-O"><circle class="O" cx="-151" cy="55" r="20"/></g><g id="n52-P"><circle class="P" cx="-151" cy="-55" r="20"/></g>
</g>
<text x="1239" y="2981">2023/06/02</text>
</g>
</svg>
